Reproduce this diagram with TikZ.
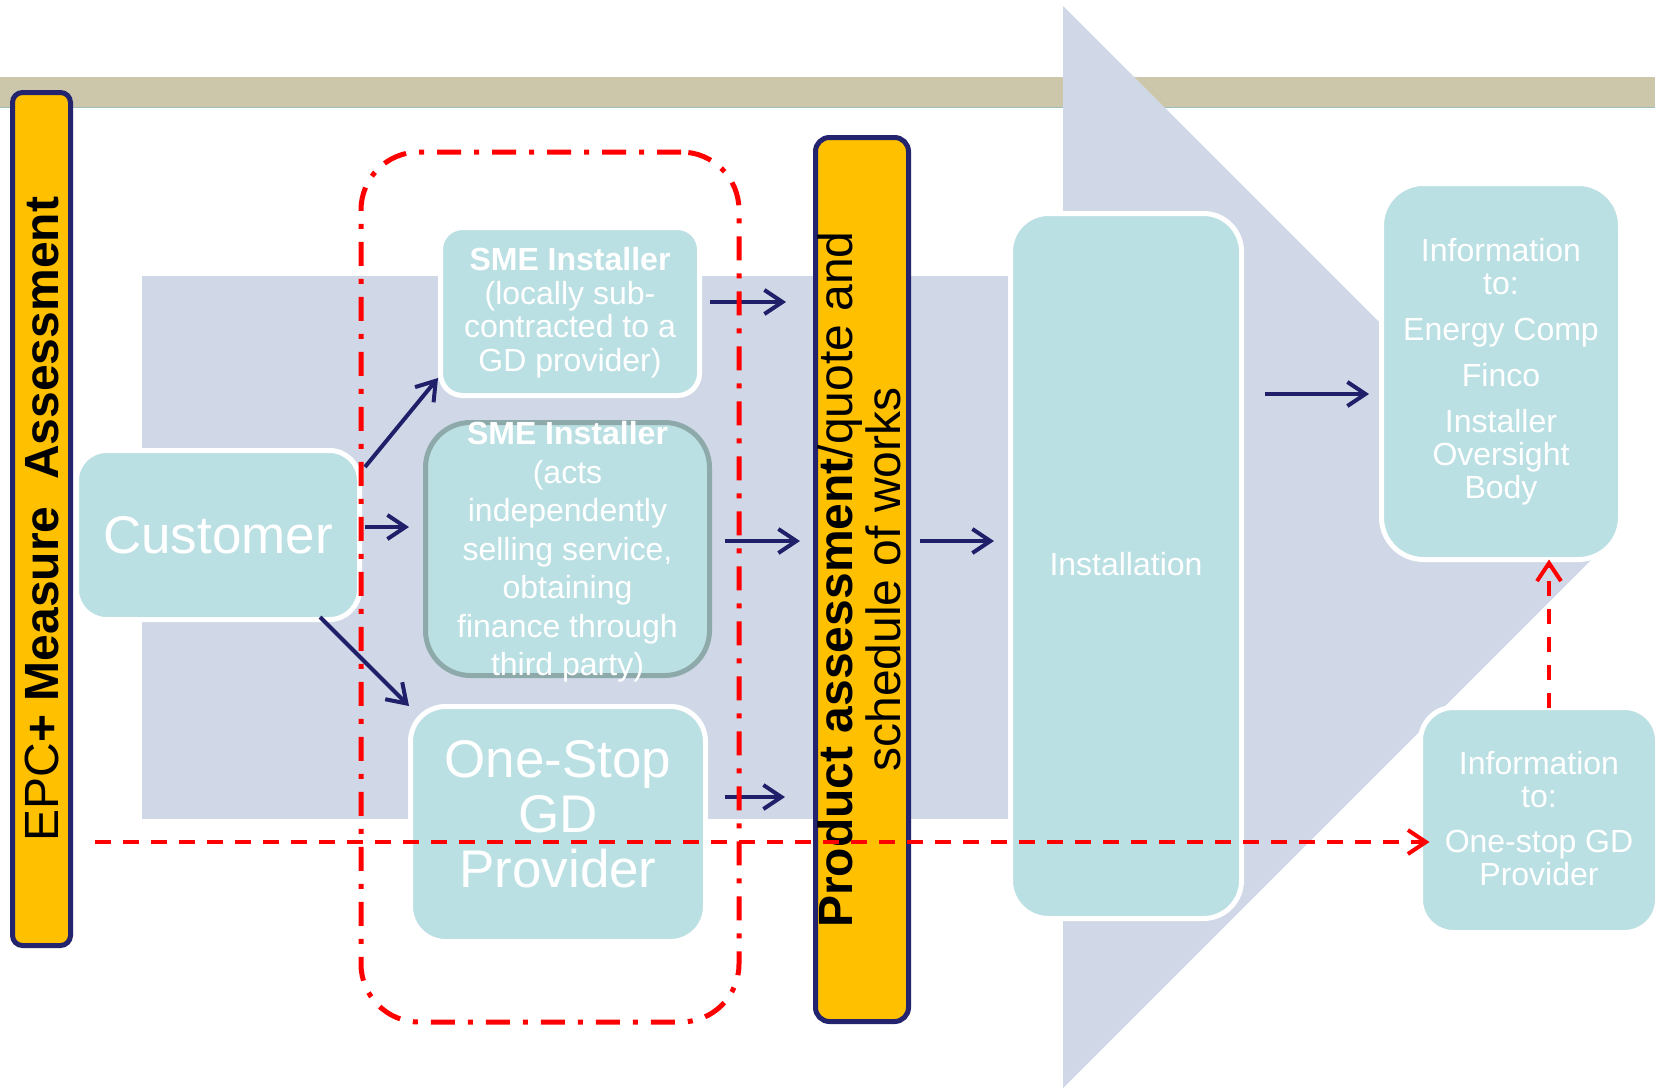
\documentclass[tikz,border=0pt]{standalone}
\usepackage{fontspec}
\setmainfont{Liberation Sans}
\usetikzlibrary{arrows.meta}
\definecolor{teal0}{HTML}{BBE0E3}
\definecolor{lav}{HTML}{D0D8E8}
\definecolor{tan0}{HTML}{CCC6AA}
\definecolor{bandline}{HTML}{9CC0B6}
\definecolor{orng}{HTML}{FFC000}
\definecolor{navy}{HTML}{24246E}
\definecolor{greyb}{HTML}{8EA9AA}
\definecolor{arrowc}{HTML}{20206A}
\begin{document}
\begin{tikzpicture}[x=1pt,y=-1pt,
  tbox/.style={rectangle, rounded corners=#1, fill=teal0, draw=white, line width=5pt,
    inner sep=0pt, outer sep=0pt, align=center, text=white},
  tbox/.default=30pt,
  obar/.style={rectangle, rounded corners=#1, fill=orng, draw=navy, line width=5pt,
    inner sep=0pt, outer sep=0pt},
  arr/.style={draw=arrowc, line width=4pt, -{Straight Barb[length=18pt,width=24pt]}},
  redarr/.style={draw=red, line width=4pt, -{Straight Barb[length=18pt,width=24pt]}},
  grpbox/.style={draw=red, line width=5pt, rounded corners=58pt,
    dash pattern=on 24pt off 13pt on 5pt off 13pt, inner sep=0pt, outer sep=0pt}
]
\useasboundingbox (0,0) rectangle (1655,1090);
\fill[white] (0,0) rectangle (1655,1090);

% top band
\fill[tan0] (0,77) rectangle (1655,108);
\draw[bandline, line width=1.5pt] (0,107.25) -- (1655,107.25);

% lavender process arrow background
\fill[lav] (142,276) rectangle (1008,819);
\fill[lav] (1063,6) -- (1604,547) -- (1063,1088) -- cycle;

% left bar
\node[obar=10pt, minimum width=58pt, minimum height=853pt] (epc) at (41.5,519) {};
\node[rotate=90, font=\fontsize{48}{48}\selectfont] (epcT) at (epc.center)
  {EPC\textbf{+ Measure\ \ Assessment}};

% boxes
\node[tbox=30pt, minimum width=283pt, minimum height=169pt,
  font=\fontsize{53}{55}\selectfont] (customer) at (218,535) {Customer};
\node[tbox=22pt, minimum width=259pt, minimum height=168pt,
  font=\fontsize{32}{33.5}\selectfont] (sme1) at (570,311.5)
  {\textbf{SME Installer}\rule{0pt}{26pt}\\(locally sub-\\contracted to a\\GD provider)};
\node[tbox=45pt, draw=greyb, minimum width=284pt, minimum height=253pt] (sme2) at (567.5,549) {};
\node[align=center, text=white, inner sep=0pt, font=\fontsize{32}{38.5}\selectfont]
  (sme2T) at ([shift={(0,3)}]sme2.center)
  {\textbf{SME Installer}\\(acts\\independently\\selling service,\\obtaining\\finance through\\third party)};
\node[tbox=35pt, minimum width=295pt, minimum height=235pt,
  font=\fontsize{53}{55}\selectfont] (onestop) at (558,824)
  {One-Stop\\GD\\Provider\rule[-20pt]{0pt}{20pt}};
\node[tbox=38pt, minimum width=231pt, minimum height=705pt,
  font=\fontsize{32}{38}\selectfont] (install) at (1126,566) {Installation\rule[-4pt]{0pt}{4pt}};
\node[tbox=42pt, minimum width=239pt, minimum height=376pt,
  font=\fontsize{32}{33}\selectfont] (info1) at (1501,371.5)
  {Information\\to:\\[13pt]Energy Comp\\[13pt]Finco\\[13pt]Installer\\Oversight\\Body};
\node[tbox=33pt, minimum width=237pt, minimum height=225pt,
  font=\fontsize{32}{33}\selectfont] (info2) at (1539,820)
  {Information\\to:\\[12pt]One-stop GD\\Provider\rule[-3pt]{0pt}{3pt}};

% product bar
\node[obar=14pt, minimum width=93pt, minimum height=884pt] (bar) at (862,579.5) {};
\node[rotate=90, align=center, font=\fontsize{48}{48}\selectfont] (barT) at ([xshift=-3pt]bar.center)
  {\textbf{Product assessment}/quote and\\schedule of works};

% navy arrows
\draw[arr] ([shift={(5.5,16.5)}]customer.north east) -- ([shift={(-2.5,-17.5)}]sme1.south west);
\draw[arr] ([shift={(5.5,-8)}]customer.east) -- ([shift={(-16.5,-22)}]sme2.west);
\draw[arr] ([shift={(-39.5,-2.5)}]customer.south east) -- ([shift={(-1.5,-0.5)}]onestop.north west);
\draw[arr] ([shift={(10.5,-9.5)}]sme1.east) -- ([shift={(-29.5,-277.5)}]bar.west);
\draw[arr] ([shift={(15.5,-8)}]sme2.east) -- ([shift={(-15.5,-38.5)}]bar.west);
\draw[arr] ([shift={(19.5,-27)}]onestop.east) -- ([shift={(-30.5,217.5)}]bar.west);
\draw[arr] ([shift={(11.5,-38.5)}]bar.east) -- ([shift={(-16.5,-25)}]install.west);
\draw[arr] ([shift={(23.5,-172)}]install.east) -- ([shift={(-12.5,22.5)}]info1.west);

% red group frame and dashed connectors
\node[grpbox, minimum width=378pt, minimum height=870pt] (grp) at (550,587) {};
\coordinate (dstart) at (95,842);
\draw[redarr, dash pattern=on 16pt off 12pt] (dstart) -- ([shift={(9,22)}]info2.west);
\draw[redarr, dash pattern=on 15pt off 13pt] ([xshift=10pt]info2.north) -- ([xshift=48pt]info1.south);
\end{tikzpicture}
\end{document}
